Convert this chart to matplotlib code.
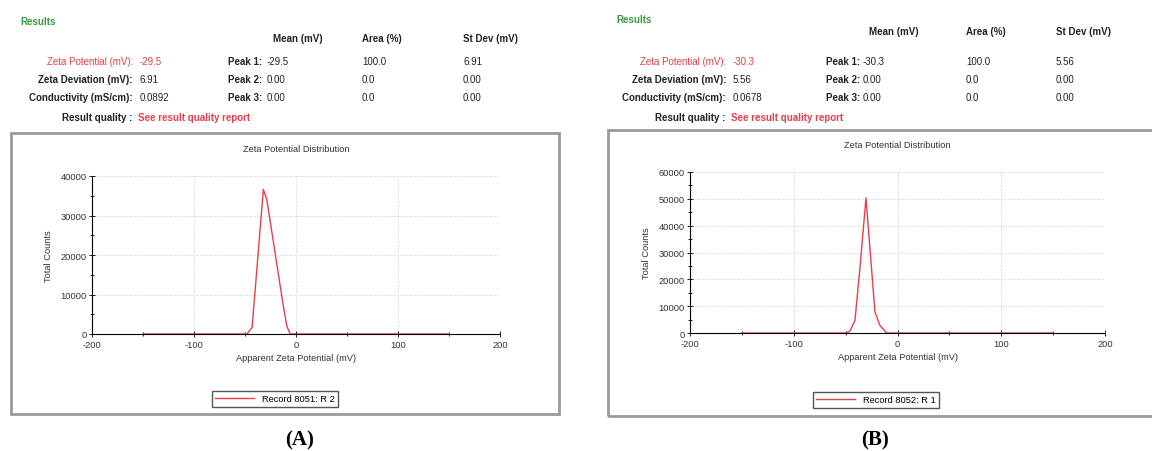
import matplotlib
matplotlib.use("Agg")
import matplotlib.pyplot as plt
from matplotlib.patches import Rectangle
from matplotlib.ticker import MultipleLocator

plt.rcParams["font.family"] = ["Liberation Sans", "DejaVu Sans"]
plt.rcParams["axes.unicode_minus"] = False

W, H = 1152, 452

# zeta potential distributions
mv_a = [-150, -48, -43, -32, -28.6, -12.5, -9, -5.7, 150]
counts_a = [0, 0, 1700, 36600, 34000, 7200, 2000, 0, 0]

mv_b = [-150, -50.6, -46, -41, -36, -30.4, -21.7, -17, -10.4, 150]
counts_b = [0, 0, 600, 4700, 25000, 50300, 7800, 2900, 0, 0]

# results tables
headers = ["Mean (mV)", "Area (%)", "St Dev (mV)"]
row_labels = ["Zeta Potential (mV):", "Zeta Deviation (mV):", "Conductivity (mS/cm):"]
summary_a = ["-29.5", "6.91", "0.0892"]
summary_b = ["-30.3", "5.56", "0.0678"]
peaks_a = [["-29.5", "100.0", "6.91"], ["0.00", "0.0", "0.00"], ["0.00", "0.0", "0.00"]]
peaks_b = [["-30.3", "100.0", "5.56"], ["0.00", "0.0", "0.00"], ["0.00", "0.0", "0.00"]]

RED = "#ec3c48"
GREEN = "#3c9a3c"
TXT = "#222222"
SMALL = 6.7


def fx(x):
    return x / W


def fy(y):
    return 1 - y / H


def put(fig, x, y, s, **kw):
    kw.setdefault("fontsize", 7)
    kw.setdefault("color", TXT)
    kw.setdefault("va", "center")
    fig.text(fx(x), fy(y), s, **kw)


def draw_panel(fig, p):
    # header block
    put(fig, p["res_x"], p["res_y"], "Results", color=GREEN, fontweight="bold")
    for hx, h in zip(p["col_x"], headers):
        put(fig, hx, p["head_y"], h, fontweight="bold")
    rows_y = [62, 80, 98]
    for i, y in enumerate(rows_y):
        col = RED if i == 0 else TXT
        put(fig, p["lab_x"], y, row_labels[i], ha="right", color=col,
            fontweight="normal" if i == 0 else "bold")
        put(fig, p["lab_x"] + 7, y, p["summary"][i], color=col)
        put(fig, p["peak_x"], y, f"Peak {i + 1}:", fontweight="bold")
        vals = p["peaks"][i]
        put(fig, p["pval_x"], y, vals[0])
        put(fig, p["col_x"][1], y, vals[1])
        put(fig, p["col_x"][2], y, vals[2])
    put(fig, p["lab_x"] - 1, 118, "Result quality :", ha="right", fontweight="bold")
    put(fig, p["lab_x"] + 5, 118, "See result quality report", color=RED, fontweight="bold")

    # grey frame around the chart
    l, t, r, b = p["frame"]
    fig.patches.append(Rectangle((fx(l), fy(b)), fx(r - l), (b - t) / H,
                                 transform=fig.transFigure, fill=False,
                                 edgecolor="#9a9a9a", linewidth=2))

    # plot area
    al, at, ar, ab = p["axes"]
    ax = fig.add_axes([fx(al), fy(ab), fx(ar - al), (ab - at) / H])
    ax.plot(p["x"], p["y"], color=RED, linewidth=1.0, label=p["legend"])
    ax.set_xlim(-200, 200)
    ax.set_ylim(0, p["ymax"])
    ax.xaxis.set_major_locator(MultipleLocator(100))
    ax.xaxis.set_minor_locator(MultipleLocator(50))
    ax.yaxis.set_major_locator(MultipleLocator(10000))
    ax.yaxis.set_minor_locator(MultipleLocator(5000))
    ax.grid(True, which="major", linestyle=(0, (1, 2)), color="#bbbbbb", linewidth=0.6)
    for s in ["top", "right"]:
        ax.spines[s].set_visible(False)
    for s in ["left", "bottom"]:
        ax.spines[s].set_linewidth(0.8)
    ax.tick_params(which="major", direction="inout", length=4, width=0.6,
                   labelsize=SMALL, labelcolor="#333333", pad=2)
    ax.tick_params(which="minor", direction="inout", length=2.5, width=0.6)
    ax.set_title("Zeta Potential Distribution", fontsize=SMALL, color="#333333", pad=p["tpad"])
    ax.set_xlabel("Apparent Zeta Potential (mV)", fontsize=SMALL, color="#333333", labelpad=3)
    ax.set_ylabel("Total Counts", fontsize=SMALL, color="#333333", labelpad=5)
    lx, ly = p["leg"]
    ax.legend(loc="center", bbox_to_anchor=(fx(lx), fy(ly)), bbox_transform=fig.transFigure,
              fontsize=SMALL, handlelength=4.2, fancybox=False, edgecolor="#555555",
              borderpad=0.35, framealpha=1)

    put(fig, p["tag_x"], 440, p["tag"], ha="center", fontsize=15, fontweight="bold",
        color="black", family=["Liberation Serif", "DejaVu Serif"])
    return ax


fig = plt.figure(figsize=(W / 100, H / 100), dpi=100)

draw_panel(fig, dict(
    res_x=20, res_y=22, head_y=39, col_x=[273, 362, 463], lab_x=133,
    peak_x=228, pval_x=267, summary=summary_a, peaks=peaks_a,
    frame=(11, 134, 559, 415), axes=(92, 177, 500, 335), ymax=40000,
    x=mv_a, y=counts_a, legend="Record 8051: R 2", leg=(275, 400),
    tpad=18, tag="(A)", tag_x=300))

draw_panel(fig, dict(
    res_x=616, res_y=20, head_y=32, col_x=[869, 966, 1056], lab_x=726,
    peak_x=826, pval_x=863, summary=summary_b, peaks=peaks_b,
    frame=(608, 131, 1162, 417), axes=(690, 173, 1105, 334), ymax=60000,
    x=mv_b, y=counts_b, legend="Record 8052: R 1", leg=(876, 401),
    tpad=18, tag="(B)", tag_x=875))

fig.savefig("out.png", dpi=100)
